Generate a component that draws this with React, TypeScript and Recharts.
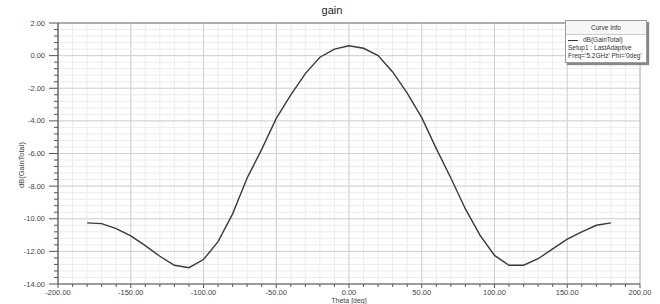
import { LineChart, Line, XAxis, YAxis, CartesianGrid, ReferenceLine } from "recharts";

const theta = [
  -180, -170, -160, -150, -140, -130, -120, -110, -100, -90, -80, -70, -60, -50, -40, -30, -20, -10, 0,
  10, 20, 30, 40, 50, 60, 70, 80, 90, 100, 110, 120, 130, 140, 150, 160, 170, 180,
];
const gainDb = [
  -10.25, -10.3, -10.6, -11.05, -11.65, -12.3, -12.85, -13.0, -12.5, -11.4, -9.7, -7.5, -5.75, -3.85, -2.4,
  -1.1, -0.1, 0.4, 0.6, 0.45, 0.0, -1.0, -2.3, -3.8, -5.7, -7.5, -9.4, -11.0, -12.25, -12.85, -12.85,
  -12.45, -11.85, -11.25, -10.8, -10.4, -10.25,
];
const xMajor = [-200, -150, -100, -50, 0, 50, 100, 150, 200];
const yMajor = [2, 0, -2, -4, -6, -8, -10, -12, -14];
const legendLines = ["Setup1 : LastAdaptive", "Freq='5.2GHz' Phi='0deg'"];

const xMinor: number[] = [];
for (let v = -200; v <= 200; v += 10) xMinor.push(v);
const yMinor: number[] = [];
for (let i = 0; i <= 40; i++) yMinor.push(Math.round((-14 + i * 0.4) * 10) / 10);

const data = theta.map((t, i) => ({ theta: t, gain: gainDb[i] }));

const isMajorY = (v: number) => yMajor.some((m) => Math.abs(m - v) < 1e-6);
const isMajorX = (v: number) => xMajor.includes(v);

const FONT = "'Liberation Sans', Arial, sans-serif";

function YTick(props: any) {
  const { x, y, payload } = props;
  const major = isMajorY(payload.value);
  return (
    <g>
      <line x1={x - (major ? 9 : 4)} x2={x} y1={y} y2={y} stroke="#555" strokeWidth={1} />
      {major && (
        <text x={x - 13} y={y + 2.5} textAnchor="end" fontSize={7.5} fill="#444" fontFamily={FONT}>
          {Number(payload.value).toFixed(2)}
        </text>
      )}
    </g>
  );
}

function XTick(props: any) {
  const { x, y, payload } = props;
  const major = isMajorX(payload.value);
  return (
    <g>
      <line x1={x} x2={x} y1={y} y2={y + (major ? 4 : 3)} stroke="#555" strokeWidth={1} />
      {major && (
        <text x={x} y={y + 11} textAnchor="middle" fontSize={7.5} fill="#444" fontFamily={FONT}>
          {Number(payload.value).toFixed(2)}
        </text>
      )}
    </g>
  );
}

function CurveInfo() {
  return (
    <div
      style={{
        position: "absolute",
        left: 565,
        top: 20,
        width: 80,
        background: "#fff",
        border: "1px solid #999",
        boxShadow: "2px 2px 1px #888",
        fontFamily: FONT,
        fontSize: 6.5,
        color: "#333",
        lineHeight: "8px",
      }}
    >
      <div style={{ textAlign: "center", padding: "3px 0 2px", borderBottom: "1px solid #ccc", background: "#f6f6f6" }}>
        Curve Info
      </div>
      <div style={{ padding: "1px 2px 2px" }}>
        <div style={{ display: "flex", alignItems: "center" }}>
          <span style={{ display: "inline-block", width: 10, borderTop: "1px solid #333", marginRight: 5 }} />
          dB(GainTotal)
        </div>
        {legendLines.map((l) => (
          <div key={l} style={{ whiteSpace: "nowrap" }}>{l}</div>
        ))}
      </div>
    </div>
  );
}

export default function App() {
  return (
    <div style={{ position: "fixed", left: 0, top: 0, width: 660, height: 304, background: "#fff" }}>
      <LineChart width={660} height={304} data={data} margin={{ top: 23, right: 20, bottom: 0, left: 0 }}>
        <CartesianGrid horizontalValues={yMinor} verticalValues={xMinor} stroke="#ececec" strokeWidth={1} />
        <CartesianGrid horizontalValues={yMajor} verticalValues={xMajor} stroke="#d2d2d2" strokeWidth={1} />
        <XAxis
          dataKey="theta"
          type="number"
          domain={[-200, 200]}
          ticks={xMinor}
          interval={0}
          height={20}
          tickSize={0}
          tickMargin={0}
          tickLine={false}
          axisLine={{ stroke: "#555", strokeWidth: 1.2 }}
          tick={<XTick />}
        />
        <YAxis
          type="number"
          domain={[-14, 2]}
          ticks={yMinor}
          interval={0}
          width={58}
          tickSize={0}
          tickMargin={0}
          tickLine={false}
          axisLine={{ stroke: "#555", strokeWidth: 1.2 }}
          tick={<YTick />}
        />
        <ReferenceLine y={2} stroke="#9a9a9a" strokeWidth={1.5} />
        <ReferenceLine x={200} stroke="#c4c4c4" strokeWidth={1} />
        <Line
          type="linear"
          dataKey="gain"
          stroke="#3a3a3a"
          strokeWidth={1.4}
          dot={false}
          isAnimationActive={false}
        />
        <text x={332} y={14} textAnchor="middle" fontSize={11} fill="#222" fontFamily={FONT}>
          gain
        </text>
        <text x={349} y={303} textAnchor="middle" fontSize={7} fill="#444" fontFamily={FONT}>
          Theta [deg]
        </text>
        <text
          x={24}
          y={165}
          textAnchor="middle"
          fontSize={7.5}
          fill="#444"
          fontFamily={FONT}
          transform="rotate(-90 24 165)"
        >
          dB(GainTotal)
        </text>
      </LineChart>
      <CurveInfo />
    </div>
  );
}
